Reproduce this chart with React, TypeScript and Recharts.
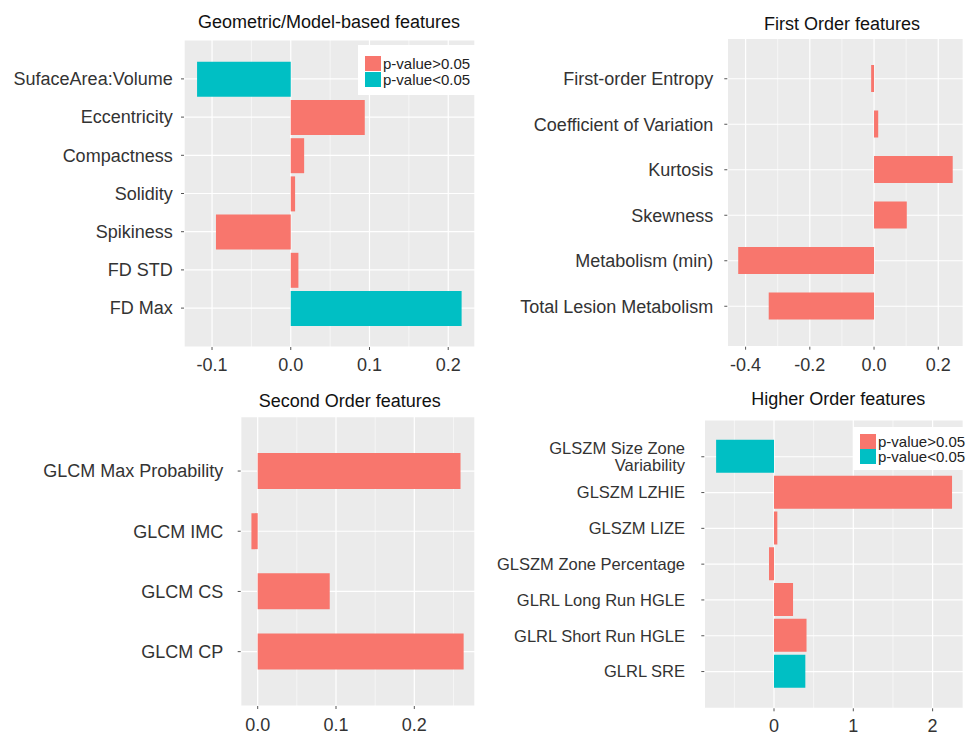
import React from 'react';
import {
  BarChart, Bar, XAxis, YAxis, CartesianGrid, Legend, Cell,
} from 'recharts';

const FONT = '"Liberation Sans", Arial, Helvetica, sans-serif';
const RED = '#F8766D';
const TEAL = '#00BFC4';

// Geometric / model-based
const geoFeatures = ['SufaceArea:Volume', 'Eccentricity', 'Compactness', 'Solidity', 'Spikiness', 'FD STD', 'FD Max'];
const geoValues = [-0.119, 0.094, 0.017, 0.0055, -0.095, 0.0097, 0.217];
const geoSig = [true, false, false, false, false, false, true];
const geoTicks = [-0.1, 0, 0.1, 0.2];
const geoMinor = [-0.05, 0.05, 0.15];

// First order
const firstFeatures = ['First-order Entropy', 'Coefficient of Variation', 'Kurtosis', 'Skewness', 'Metabolism (min)', 'Total Lesion Metabolism'];
const firstValues = [-0.009, 0.013, 0.245, 0.102, -0.423, -0.328];
const firstSig = [false, false, false, false, false, false];
const firstTicks = [-0.4, -0.2, 0, 0.2];
const firstMinor = [-0.3, -0.1, 0.1];

// Second order
const secondFeatures = ['GLCM Max Probability', 'GLCM IMC', 'GLCM CS', 'GLCM CP'];
const secondValues = [0.259, -0.008, 0.092, 0.263];
const secondSig = [false, false, false, false];
const secondTicks = [0, 0.1, 0.2];
const secondMinor = [0.05, 0.15, 0.25];

// Higher order
const higherFeatures = ['GLSZM Size Zone\nVariability', 'GLSZM LZHIE', 'GLSZM LIZE', 'GLSZM Zone Percentage', 'GLRL Long Run HGLE', 'GLRL Short Run HGLE', 'GLRL SRE'];
const higherValues = [-0.73, 2.245, 0.042, -0.063, 0.24, 0.41, 0.395];
const higherSig = [true, false, false, false, false, false, true];
const higherTicks = [0, 1, 2];
const higherMinor = [-0.5, 0.5, 1.5];

const legendLabels = ['p-value>0.05', 'p-value<0.05'];

interface Row { name: string; value: number; sig: boolean }

const rows = (names: string[], vals: number[], sig: boolean[]): Row[] =>
  names.map((name, i) => ({ name, value: vals[i], sig: sig[i] }));

const YTick = (props: any) => {
  const { x, y, payload, fontSize } = props;
  const lines = String(payload.value).split('\n');
  const lh = fontSize * 1.08;
  const first = fontSize * 0.35 - ((lines.length - 1) * lh) / 2;
  return (
    <text x={x} y={y} textAnchor="end" fill="#333" fontSize={fontSize} fontFamily={FONT}>
      {lines.map((l, i) => (
        <tspan key={i} x={x} dy={i === 0 ? first : lh}>{l}</tspan>
      ))}
    </text>
  );
};

const LegendBox = ({ w, h, padL, padT }: { w: number; h: number; padL: number; padT: number }) => (
  <div style={{ width: w, height: h, background: '#fff', position: 'relative', fontFamily: FONT }}>
    {legendLabels.map((l, i) => (
      <div key={l} style={{
        position: 'absolute', left: padL, top: padT + i * 15.5, height: 15.5,
        display: 'flex', alignItems: 'center', whiteSpace: 'nowrap',
      }}>
        <div style={{ width: 16, height: 15, background: i === 0 ? RED : TEAL }} />
        <span style={{ fontSize: 15, color: '#222', marginLeft: 2, lineHeight: '15px' }}>{l}</span>
      </div>
    ))}
  </div>
);

interface PanelProps {
  title: string;
  titleX: number;
  titleTop: number;
  left: number;
  top: number;
  width: number;
  height: number;
  margin: { top: number; right: number; bottom: number; left: number };
  yWidth: number;
  xHeight: number;
  yPad: number;
  data: Row[];
  domain: [number, number];
  ticks: number[];
  minor: number[];
  digits: number;
  barSize: number;
  labelFont: number;
  labelGap: number;
  xGap: number;
  legend?: { left: number; top: number; w: number; h: number; padL: number; padT: number };
}

const Panel = (p: PanelProps) => (
  <>
    <div style={{
      position: 'absolute', left: p.titleX - 200, top: p.titleTop, width: 400, textAlign: 'center',
      fontFamily: FONT, fontSize: 18, lineHeight: '18px', color: '#111',
    }}>
      {p.title}
    </div>
    <div style={{ position: 'absolute', left: p.left, top: p.top }}>
      <BarChart layout="vertical" width={p.width} height={p.height} data={p.data} margin={p.margin}>
        {/* minor grid (thin) then major grid on top */}
        <CartesianGrid xAxisId="minor" horizontal={false} fill="#EBEBEB" stroke="#ffffff" strokeWidth={0.55} />
        <CartesianGrid stroke="#ffffff" strokeWidth={1.2} />
        <XAxis
          xAxisId="minor"
          type="number"
          domain={p.domain}
          ticks={p.minor}
          interval={0}
          allowDataOverflow
          hide
        />
        <XAxis
          type="number"
          domain={p.domain}
          ticks={p.ticks}
          interval={0}
          allowDataOverflow
          height={p.xHeight}
          axisLine={false}
          tickSize={3}
          tickMargin={p.xGap}
          tickLine={{ stroke: '#555' }}
          tick={{ fill: '#333', fontSize: 18, fontFamily: FONT }}
          tickFormatter={(v: number) => v.toFixed(p.digits)}
        />
        <YAxis
          type="category"
          dataKey="name"
          width={p.yWidth}
          interval={0}
          padding={{ top: p.yPad, bottom: p.yPad }}
          axisLine={false}
          tickSize={3}
          tickMargin={p.labelGap}
          tickLine={{ stroke: '#555' }}
          tick={<YTick fontSize={p.labelFont} />}
        />
        {p.legend && (
          <Legend
            layout="vertical"
            align="center"
            verticalAlign="middle"
            wrapperStyle={{ position: 'absolute', left: p.legend.left, top: p.legend.top, width: p.legend.w }}
            content={() => <LegendBox w={p.legend!.w} h={p.legend!.h} padL={p.legend!.padL} padT={p.legend!.padT} />}
          />
        )}
        <Bar dataKey="value" barSize={p.barSize} isAnimationActive={false}>
          {p.data.map((d, i) => (
            <Cell key={i} fill={d.sig ? TEAL : RED} />
          ))}
        </Bar>
      </BarChart>
    </div>
  </>
);

const App: React.FC = () => {
  return (
    <div style={{ position: 'absolute', left: 0, top: 0, width: 967, height: 735, background: '#fff', overflow: 'hidden' }}>
      <Panel
        title="Geometric/Model-based features" titleX={329} titleTop={13}
        left={0} top={0} width={480} height={380}
        margin={{ top: 40, right: 5, bottom: 0, left: 0 }}
        yWidth={184} xHeight={33} yPad={19.8}
        data={rows(geoFeatures, geoValues, geoSig)}
        domain={[-0.1356, 0.234]} ticks={geoTicks} minor={geoMinor} digits={1}
        barSize={35} labelFont={18} labelGap={8.3} xGap={8.3}
        legend={{ left: 358, top: 45, w: 117, h: 50, padL: 7, padT: 11 }}
      />
      <Panel
        title="First Order features" titleX={842} titleTop={14.8}
        left={490} top={0} width={477} height={380}
        margin={{ top: 38.3, right: 3.7, bottom: 0, left: 0 }}
        yWidth={237.3} xHeight={33.3} yPad={17.7}
        data={rows(firstFeatures, firstValues, firstSig)}
        domain={[-0.457, 0.278]} ticks={firstTicks} minor={firstMinor} digits={1}
        barSize={27} labelFont={18} labelGap={11} xGap={8.3}
      />
      <Panel
        title="Second Order features" titleX={349.7} titleTop={391.5}
        left={0} top={380} width={480} height={355}
        margin={{ top: 36.7, right: 5, bottom: 0, left: 0 }}
        yWidth={240.7} xHeight={29} yPad={24.25}
        data={rows(secondFeatures, secondValues, secondSig)}
        domain={[-0.0217, 0.2775]} ticks={secondTicks} minor={secondMinor} digits={1}
        barSize={36} labelFont={18} labelGap={14.4} xGap={9.3}
      />
      <Panel
        title="Higher Order features" titleX={838.3} titleTop={389.8}
        left={490} top={380} width={477} height={355}
        margin={{ top: 40, right: 3.7, bottom: 0, left: 0 }}
        yWidth={214.3} xHeight={26.7} yPad={18.85}
        data={rows(higherFeatures, higherValues, higherSig)}
        domain={[-0.879, 2.387]} ticks={higherTicks} minor={higherMinor} digits={0}
        barSize={33} labelFont={16.5} labelGap={16.3} xGap={8.3}
        legend={{ left: 363, top: 47, w: 110, h: 43, padL: 7, padT: 6.3 }}
      />
    </div>
  );
};

export default App;
